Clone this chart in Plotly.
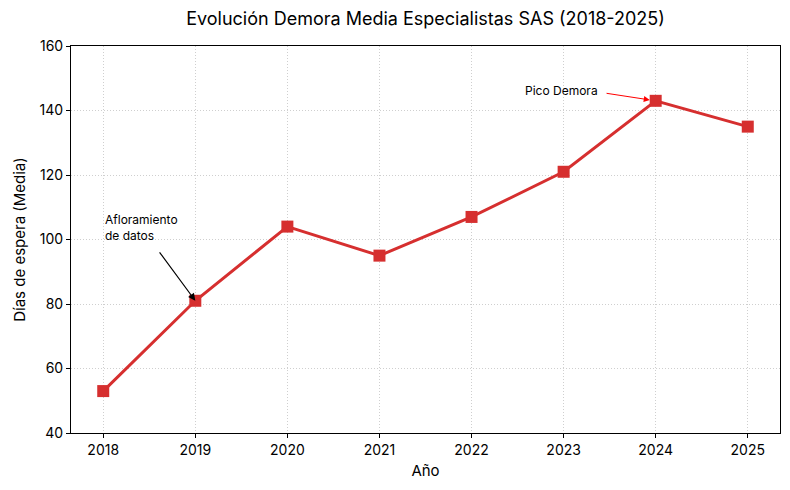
import plotly.graph_objects as go

years = [2018, 2019, 2020, 2021, 2022, 2023, 2024, 2025]
demora = [53, 81, 104, 95, 107, 121, 143, 135]
y_ticks = [40, 60, 80, 100, 120, 140, 160]

RED = "#d62f2f"
FONT = "Inter"

fig = go.Figure()
fig.add_trace(go.Scatter(
    x=years, y=demora, mode="lines+markers",
    line=dict(color=RED, width=3),
    marker=dict(symbol="square", size=12, color=RED),
    showlegend=False,
))

# Annotation: Afloramiento de datos
fig.add_annotation(x=2019, y=81, ax=2018.6, ay=96.5, xref="x", yref="y", axref="x", ayref="y",
                   text="", showarrow=True, arrowhead=2, arrowsize=1.2, arrowwidth=1.2, arrowcolor="black",
                   standoff=0)
fig.add_annotation(x=2018, y=103.8, xref="x", yref="y", text="Afloramiento<br>de datos",
                   showarrow=False, xanchor="left", yanchor="middle", align="left",
                   font=dict(family=FONT, size=12, color="black"))
# Annotation: Pico Demora
fig.add_annotation(x=2024, y=143, ax=2023.45, ay=145.4, xref="x", yref="y", axref="x", ayref="y",
                   text="", showarrow=True, arrowhead=2, arrowsize=1.2, arrowwidth=1, arrowcolor="red",
                   standoff=6)
fig.add_annotation(x=2023.39, y=146.3, xref="x", yref="y", text="Pico Demora",
                   showarrow=False, xanchor="right", yanchor="middle",
                   font=dict(family=FONT, size=12, color="black"))

axis_common = dict(
    showline=True, linecolor="black", linewidth=1, mirror=True,
    ticks="outside", ticklen=4, tickcolor="black",
    showgrid=True, gridcolor="#cfcfcf", griddash="1px,2px", gridwidth=1,
    zeroline=False, tickfont=dict(family=FONT, size=14, color="black"),
)

fig.update_layout(
    width=790, height=490,
    margin=dict(l=71, r=10, t=46, b=57),
    paper_bgcolor="white", plot_bgcolor="white",
    title=dict(text="Evolución Demora Media Especialistas SAS (2018-2025)",
               x=0.5, xref="paper", y=0.962, yanchor="middle",
               font=dict(family=FONT, size=18, color="black")),
    xaxis=dict(range=[2017.65, 2025.35], tickvals=years, ticktext=[str(y) for y in years],
               title=dict(text="Año", font=dict(family=FONT, size=15, color="black"), standoff=8),
               **axis_common),
    yaxis=dict(range=[40, 160], tickvals=y_ticks,
               title=dict(text="Días de espera (Media)", font=dict(family=FONT, size=15, color="black"), standoff=10),
               **axis_common),
)

fig.write_html("out.html")
